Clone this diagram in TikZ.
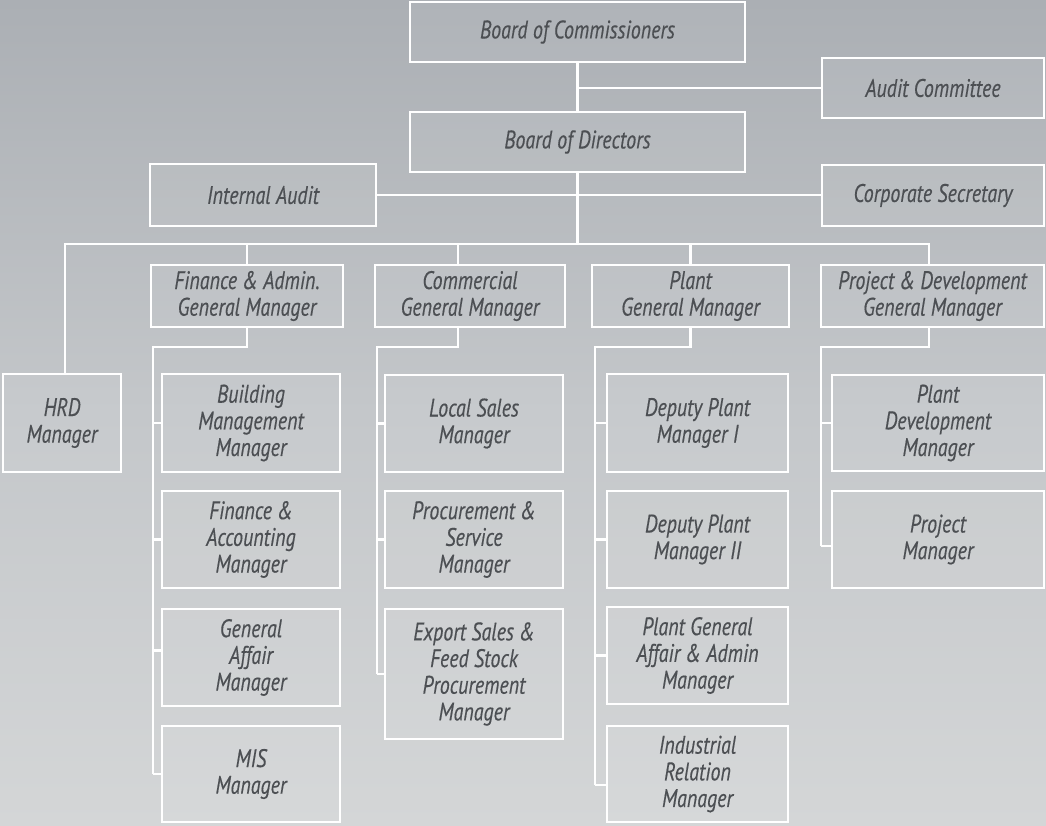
\documentclass[tikz,border=0pt]{standalone}
\usepackage{fontspec}
\setmainfont{PT Sans}[FakeStretch=0.79, FakeBold=0.35]
\definecolor{txt}{HTML}{4C4F53}
\definecolor{bgtop}{HTML}{ABAFB4}
\definecolor{bgmid}{HTML}{C4C7CA}
\definecolor{bgbot}{HTML}{D4D6D7}
\newcommand\orgfont{\itshape\fontsize{19}{20}\selectfont}
\begin{document}
\begin{tikzpicture}[x=0.75pt,y=-0.75pt,
  box/.style 2 args={draw=white, line width=1.5pt, fill=white, fill opacity=0.06, text opacity=1,
    text=txt, minimum width=#1*0.75pt, minimum height=#2*0.75pt, inner sep=0pt, align=center, font=\orgfont},
  conn/.style={draw=white, line width=1.6pt}]
\shade[top color=bgtop, bottom color=bgbot, middle color=bgmid] (0,0) rectangle (1046,825);
\useasboundingbox (0,0) rectangle (1046,825);

% top levels
\node[box={335}{60}] (boc) at (577.5,32) {Board of Commissioners};
\node[box={222}{60}] (aud) at (933,88) {Audit Committee};
\node[box={335}{60}] (bod) at (577.5,142) {Board of Directors};
\node[box={226}{62}] (ia) at (263,195) {Internal Audit};
\node[box={222}{61}] (cs) at (933,195.5) {Corporate Secretary};

% general managers
\node[box={118}{98}] (hrd) at (62,423) {HRD\\Manager};
\node[box={192}{62}] (fgm) at (247,296) {Finance \& Admin.\\General Manager};
\node[box={190}{62}] (cgm) at (470,296) {Commercial\\General Manager};
\node[box={197}{62}] (pgm) at (690.5,296) {Plant\\General Manager};
\node[box={223}{62}] (jgm) at (932.5,296) {Project \& Development\\General Manager};

% finance column
\node[box={178}{98}] (bm) at (251,423) {Building\\Management\\Manager};
\node[box={178}{97}] (fa) at (251,539.5) {Finance \&\\Accounting\\Manager};
\node[box={178}{97}] (ga) at (251,657.5) {General\\Affair\\Manager};
\node[box={178}{96}] (mis) at (251,774) {MIS\\Manager};

% commercial column
\node[box={178}{97}] (ls) at (474,423.5) {Local Sales\\Manager};
\node[box={178}{97}] (ps) at (474,539.5) {Procurement \&\\Service\\Manager};
\node[box={178}{130}] (es) at (474,674) {Export Sales \&\\Feed Stock\\Procurement\\Manager};

% plant column
\node[box={181}{98}] (d1) at (697.5,423) {Deputy Plant\\Manager I};
\node[box={181}{97}] (d2) at (697.5,539.5) {Deputy Plant\\Manager II};
\node[box={181}{97}] (pga) at (697.5,655.5) {Plant General\\Affair \& Admin\\Manager};
\node[box={181}{96}] (ir) at (697.5,774) {Industrial\\Relation\\Manager};

% project column
\node[box={212}{96}] (pd) at (938,423) {Plant\\Development\\Manager};
\node[box={212}{97}] (pm) at (938,539.5) {Project\\Manager};

% coordinates
\coordinate (busL) at (65,244);
\coordinate (busR) at (929,244);
\coordinate (cstem) at (458,244);
\coordinate (fsp) at (153,347);
\coordinate (csp) at (377,347);
\coordinate (psp) at (595,347);
\coordinate (jsp) at (821,347);
\coordinate (gat) at ([yshift=5.25pt]ga.west);
\coordinate (irt) at ([yshift=-8.25pt]ir.west);
\coordinate (pmt) at ([yshift=-4.9pt]pm.west);

% top connectors
\draw[conn] (boc.south) -- (bod.north);
\draw[conn] (boc.south |- aud.west) -- (aud.west);
\draw[conn] (bod.south) -- (bod.south |- busL);
\draw[conn] (ia.east) -- (ia.east -| cs.west);
\draw[conn] (busL |- hrd.north) -- (busL) -- (busR) -- (busR |- jgm.north);
\draw[conn] (fgm.north |- busL) -- (fgm.north);
\draw[conn] (cstem) -- (cstem |- cgm.north);
\draw[conn] (pgm.north |- busL) -- (pgm.north);

% finance
\draw[conn] (fgm.south) -- (fgm.south |- fsp) -- (fsp) -- (fsp |- mis.west);
\draw[conn] (fsp |- bm.west) -- (bm.west);
\draw[conn] (fsp |- fa.west) -- (fa.west);
\draw[conn] (fsp |- gat) -- (gat);
\draw[conn] (fsp |- mis.west) -- (mis.west);

% commercial
\draw[conn] (cstem |- cgm.south) -- (cstem |- csp) -- (csp) -- (csp |- es.west);
\draw[conn] (csp |- ls.west) -- (ls.west);
\draw[conn] (csp |- ps.west) -- (ps.west);
\draw[conn] (csp |- es.west) -- (es.west);

% plant
\draw[conn] (pgm.south) -- (pgm.south |- psp) -- (psp) -- (psp |- irt);
\draw[conn] (psp |- d1.west) -- (d1.west);
\draw[conn] (psp |- d2.west) -- (d2.west);
\draw[conn] (psp |- pga.west) -- (pga.west);
\draw[conn] (psp |- irt) -- (irt);

% project
\draw[conn] (busR |- jgm.south) -- (busR |- jsp) -- (jsp) -- (jsp |- pmt);
\draw[conn] (jsp |- pd.west) -- (pd.west);
\draw[conn] (jsp |- pmt) -- (pmt);
\end{tikzpicture}
\end{document}
